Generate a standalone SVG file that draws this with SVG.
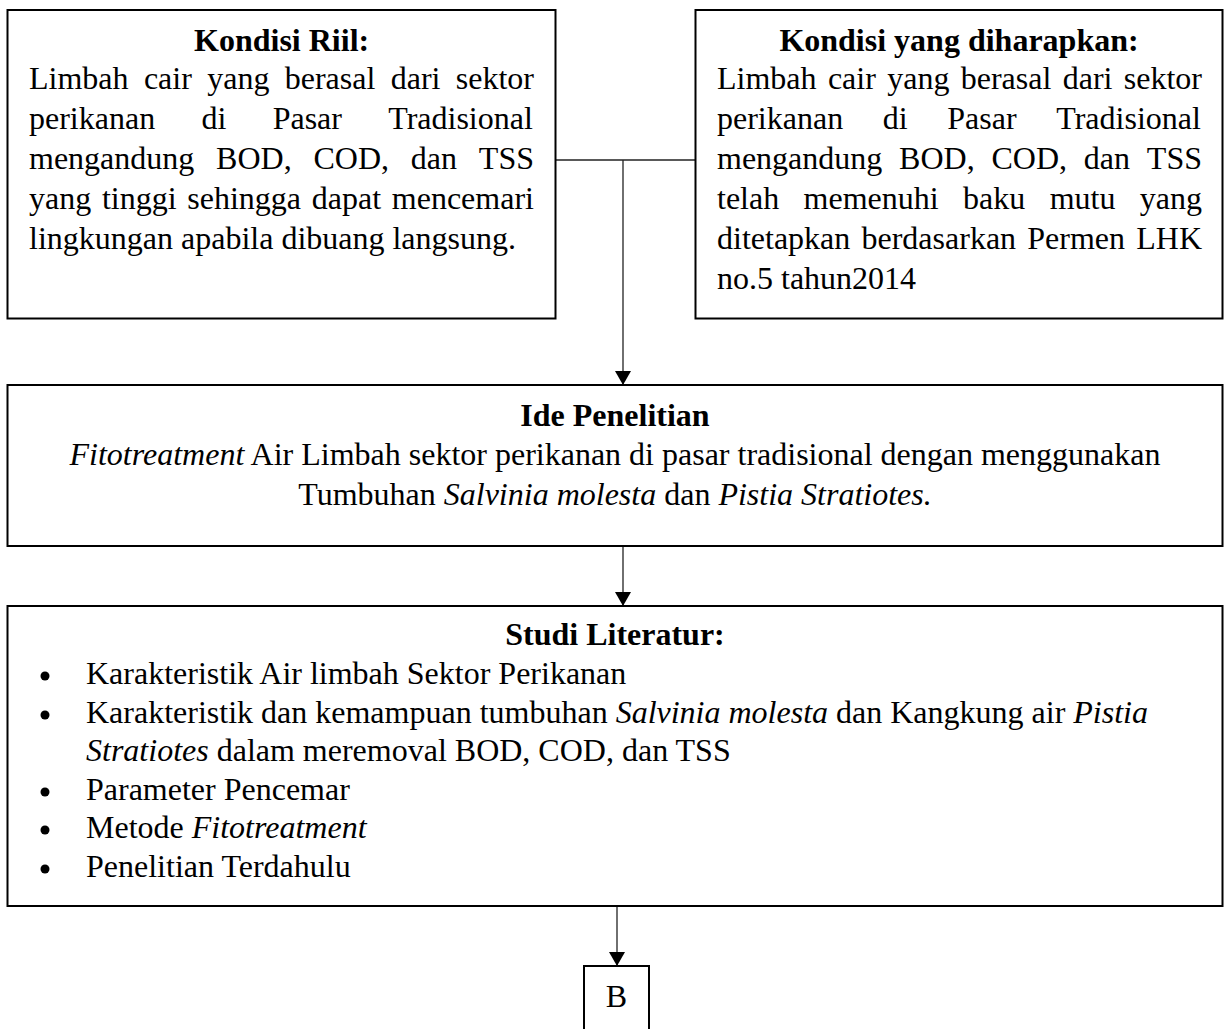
<svg xmlns="http://www.w3.org/2000/svg" width="1224" height="1029" viewBox="0 0 1224 1029">
<style>
.box{fill:#fff;stroke:#000;stroke-width:2}
.t{font-family:"Liberation Serif","Times New Roman",serif;font-size:32px;fill:#000}
.b{font-weight:bold}
.i{font-style:italic}
.c{text-anchor:middle}
.conn{stroke:#222;stroke-width:1.3;fill:none}
.bul{fill:#000}
</style>
<defs>
<marker id="arr" viewBox="0 0 14 16" refX="14" refY="8" markerWidth="14" markerHeight="16" orient="auto" markerUnits="userSpaceOnUse">
<path d="M0,0 L14,8 L0,16 z" fill="#000"/>
</marker>
</defs>
<rect width="1224" height="1029" fill="#fff"/>

<g id="connectors">
<line class="conn" x1="556" y1="160" x2="695" y2="160"/>
<line class="conn" x1="623" y1="160" x2="623" y2="385" marker-end="url(#arr)"/>
<line class="conn" x1="623" y1="546" x2="623" y2="606" marker-end="url(#arr)"/>
<line class="conn" x1="617" y1="906" x2="617" y2="966" marker-end="url(#arr)"/>
</g>

<g id="kondisi-riil">
<rect class="box" x="7.5" y="10" width="548" height="308.5"/>
<text class="t b c" x="281.6" y="51">Kondisi Riil:</text>
<text class="t" y="89"><tspan x="29">Limbah</tspan><tspan x="143.89">cair</tspan><tspan x="207.2">yang</tspan><tspan x="284.75">berasal</tspan><tspan x="390.71">dari</tspan><tspan x="455.81">sektor</tspan></text>
<text class="t" y="129"><tspan x="29">perikanan</tspan><tspan x="201.46">di</tspan><tspan x="272.64">Pasar</tspan><tspan x="388.23">Tradisional</tspan></text>
<text class="t" y="169"><tspan x="29">mengandung</tspan><tspan x="216.12">BOD,</tspan><tspan x="313.48">COD,</tspan><tspan x="410.84">dan</tspan><tspan x="478.86">TSS</tspan></text>
<text class="t" y="209"><tspan x="29">yang</tspan><tspan x="101.92">tinggi</tspan><tspan x="187.32">sehingga</tspan><tspan x="311.79">dapat</tspan><tspan x="391.81">mencemari</tspan></text>
<text class="t" x="29" y="249">lingkungan apabila dibuang langsung.</text>
</g>

<g id="kondisi-diharapkan">
<rect class="box" x="695.5" y="10" width="527" height="308.5"/>
<text class="t b c" x="959" y="51">Kondisi yang diharapkan:</text>
<text class="t" y="89"><tspan x="717">Limbah</tspan><tspan x="827.89">cair</tspan><tspan x="887.2">yang</tspan><tspan x="960.75">berasal</tspan><tspan x="1062.71">dari</tspan><tspan x="1123.81">sektor</tspan></text>
<text class="t" y="129"><tspan x="717">perikanan</tspan><tspan x="882.8">di</tspan><tspan x="947.32">Pasar</tspan><tspan x="1056.25">Tradisional</tspan></text>
<text class="t" y="169"><tspan x="717">mengandung</tspan><tspan x="899.12">BOD,</tspan><tspan x="991.48">COD,</tspan><tspan x="1083.84">dan</tspan><tspan x="1146.86">TSS</tspan></text>
<text class="t" y="209"><tspan x="717">telah</tspan><tspan x="803.58">memenuhi</tspan><tspan x="963.05">baku</tspan><tspan x="1049.63">mutu</tspan><tspan x="1139.79">yang</tspan></text>
<text class="t" y="249"><tspan x="717">ditetapkan</tspan><tspan x="861.5">berdasarkan</tspan><tspan x="1027.28">Permen</tspan><tspan x="1136.23">LHK</tspan></text>
<text class="t" x="717" y="289">no.5 tahun2014</text>
</g>

<g id="ide-penelitian">
<rect class="box" x="7.5" y="385" width="1215" height="161"/>
<text class="t b c" x="615" y="426">Ide Penelitian</text>
<text class="t c" x="615" y="465"><tspan class="i">Fitotreatment</tspan> Air Limbah sektor perikanan di pasar tradisional dengan menggunakan</text>
<text class="t c" x="615" y="505">Tumbuhan <tspan class="i">Salvinia molesta</tspan> dan <tspan class="i">Pistia Stratiotes.</tspan></text>
</g>

<g id="studi-literatur">
<rect class="box" x="7.5" y="606" width="1215" height="300"/>
<text class="t b c" x="615" y="645">Studi Literatur:</text>
<circle class="bul" cx="45" cy="676" r="4.5"/>
<circle class="bul" cx="45" cy="715" r="4.5"/>
<circle class="bul" cx="45" cy="792" r="4.5"/>
<circle class="bul" cx="45" cy="830" r="4.5"/>
<circle class="bul" cx="45" cy="869" r="4.5"/>
<text class="t" x="86" y="684">Karakteristik Air limbah Sektor Perikanan</text>
<text class="t" x="86" y="723">Karakteristik dan kemampuan tumbuhan <tspan class="i">Salvinia molesta</tspan> dan Kangkung air <tspan class="i">Pistia</tspan></text>
<text class="t" x="86" y="761"><tspan class="i">Stratiotes</tspan> dalam meremoval BOD, COD, dan TSS</text>
<text class="t" x="86" y="800">Parameter Pencemar</text>
<text class="t" x="86" y="838">Metode <tspan class="i">Fitotreatment</tspan></text>
<text class="t" x="86" y="877">Penelitian Terdahulu</text>
</g>

<g id="b">
<rect class="box" x="584" y="966" width="65" height="80"/>
<text class="t c" x="616.5" y="1007">B</text>
</g>
</svg>
